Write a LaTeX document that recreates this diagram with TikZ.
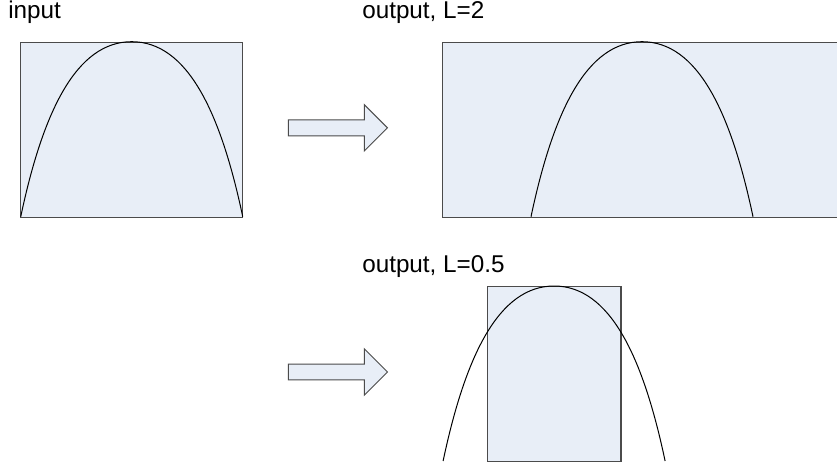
\documentclass[tikz,border=0pt]{standalone}
\usepackage{fontspec}
\setmainfont{Liberation Sans}
\usepackage{tikz}
\usetikzlibrary{shapes.arrows,calc}

\definecolor{panelfill}{RGB}{232,238,247}
\definecolor{panelline}{RGB}{75,75,75}

% one hump of the curve, apex at #1
\newcommand{\hump}[1]{\draw[curve] ($(#1)+(-111,175)$) .. controls +(22.2,-105) and +(-55.5,0) .. (#1)
  .. controls +(55.5,0) and +(-22.2,-105) .. ($(#1)+(111,175)$);}

\begin{document}
\begin{tikzpicture}[x=0.75pt, y=-0.75pt,
  heading/.style={font=\fontsize{18.2}{21}\selectfont, anchor=base west, inner sep=0pt},
  panel/.style={draw=panelline, fill=panelfill, line width=1.1pt, anchor=north west, inner sep=0pt, minimum height=131.25pt},
  blockarrow/.style={shape=single arrow, draw=panelline, fill=panelfill, line width=0.75pt, minimum height=74.25pt,
    inner xsep=0pt, inner ysep=5.6pt, single arrow head extend=11.4pt},
  curve/.style={black, line width=0.75pt}]
\useasboundingbox (0,0) rectangle (837,463);
\clip (0,0) rectangle (837,463);
\node[panel, minimum width=166.5pt] (in) at (20,41.7) {};
\node[panel, minimum width=330pt] (wide) at (442,41.7) {};
\node[panel, minimum width=100pt] (narrow) at (486.7,286) {};
\coordinate (widetop) at (642,41.7);
\hump{in.north} \hump{widetop} \hump{narrow.north}
\node[heading] (inlab) at (8,19) {input};
\node[heading] (widelab) at (362,19) {output, L=2};
\node[heading] (narrowlab) at (362,272) {output, L=0.5};
\node[blockarrow] (arrA) at (334,127.8) {};
\node[blockarrow] (arrB) at (334,372) {};
\end{tikzpicture}
\end{document}
